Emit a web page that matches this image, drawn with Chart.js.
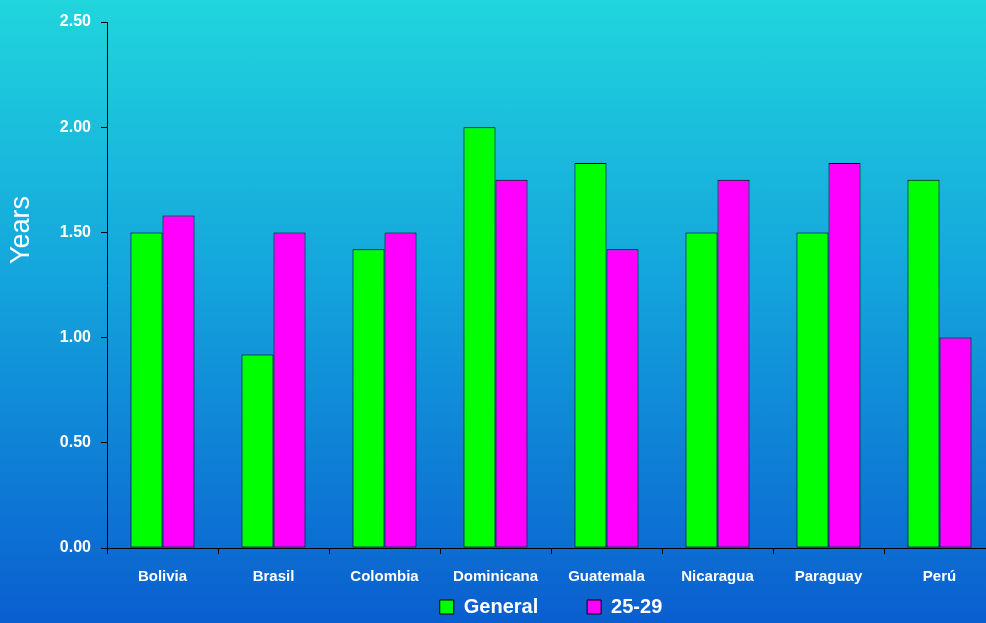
<!DOCTYPE html>
<html>
<head>
<meta charset="utf-8">
<script src="https://cdn.jsdelivr.net/npm/chart.js@4.4.0/dist/chart.umd.min.js"></script>
<style>
  html, body {
    margin: 0;
    padding: 0;
    width: 986px;
    height: 623px;
    overflow: hidden;
  }
  body {
    background: linear-gradient(to bottom, #20d5dc 0%, #14a4dc 45%, #0a5ecf 100%);
    position: relative;
  }
  #chart {
    position: absolute;
    left: 0;
    top: 0;
  }
</style>
</head>
<body>
<canvas id="chart" width="1000" height="627"></canvas>
<script>
const countries = ["Bolivia", "Brasil", "Colombia", "Dominicana", "Guatemala", "Nicaragua", "Paraguay", "Perú"];
const general = [1.50, 0.92, 1.42, 2.00, 1.83, 1.50, 1.50, 1.75];
const age2529 = [1.58, 1.50, 1.50, 1.75, 1.42, 1.75, 1.83, 1.00];
const yTicks = [0, 0.5, 1.0, 1.5, 2.0, 2.5];

const FONT = "Arial, 'Liberation Sans', sans-serif";

// rotated axis caption, sits a bit above the middle of the axis
const yearsLabel = {
  id: "yearsLabel",
  afterDraw(chart) {
    const ctx = chart.ctx;
    ctx.save();
    ctx.translate(22, 230);
    ctx.rotate(-Math.PI / 2);
    ctx.fillStyle = "#ffffff";
    ctx.font = "27px " + FONT;
    ctx.textAlign = "center";
    ctx.textBaseline = "middle";
    ctx.fillText("Years", 0, 0);
    ctx.restore();
  }
};

const ctx = document.getElementById("chart").getContext("2d");
new Chart(ctx, {
  type: "bar",
  data: {
    labels: countries,
    datasets: [
      {
        label: "General",
        data: general,
        backgroundColor: "#00ff00",
        borderColor: "#000000",
        borderWidth: 1,
        borderSkipped: false
      },
      {
        label: "25-29",
        data: age2529,
        backgroundColor: "#ff00ff",
        borderColor: "#000000",
        borderWidth: 1,
        borderSkipped: false
      }
    ]
  },
  options: {
    responsive: false,
    animation: false,
    layout: { padding: { top: 22, right: 5, left: 0, bottom: 0 } },
    datasets: {
      bar: { categoryPercentage: 0.577, barPercentage: 1.0 }
    },
    scales: {
      x: {
        grid: {
          display: true,
          offset: true,
          drawOnChartArea: false,
          drawTicks: true,
          tickLength: 6,
          color: "#000000"
        },
        border: { display: true, color: "#000000", width: 1 },
        ticks: {
          color: "#ffffff",
          padding: 14,
          maxRotation: 0,
          font: { family: FONT, size: 15, weight: "bold" }
        },
        afterFit(scale) {
          scale.height = 39;
        }
      },
      y: {
        min: 0,
        max: 2.5,
        afterBuildTicks(scale) {
          scale.ticks = yTicks.map(v => ({ value: v }));
        },
        grid: {
          display: true,
          drawOnChartArea: false,
          drawTicks: true,
          tickLength: 6,
          color: "#000000"
        },
        border: { display: true, color: "#000000", width: 1 },
        ticks: {
          color: "#ffffff",
          padding: 10,
          font: { family: FONT, size: 16, weight: "bold" },
          callback: v => Number(v).toFixed(2)
        },
        afterFit(scale) {
          scale.width = 107;
        }
      }
    },
    plugins: {
      tooltip: { enabled: false },
      legend: {
        position: "bottom",
        fullSize: false,
        labels: {
          color: "#ffffff",
          boxWidth: 14,
          boxHeight: 14,
          padding: 10,
          font: { family: FONT, size: 20, weight: "bold" },
          generateLabels(chart) {
            const items = Chart.defaults.plugins.legend.labels.generateLabels(chart);
            items.forEach(it => {
              it.strokeStyle = "#000000";
              it.lineWidth = 1;
            });
            // widen the gap after the first entry
            items[0].text = items[0].text + "       ";
            return items;
          }
        }
      }
    }
  },
  plugins: [yearsLabel]
});
</script>
</body>
</html>
